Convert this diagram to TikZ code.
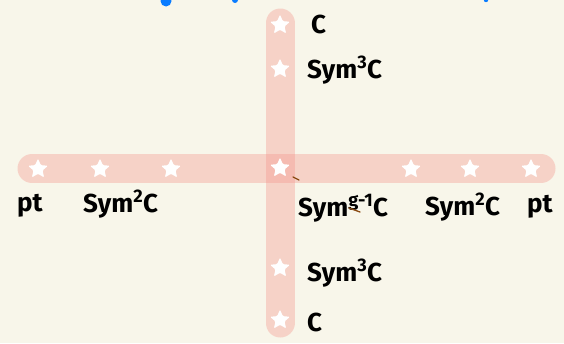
\documentclass[tikz,border=0pt]{standalone}
\usepackage{fontspec}
\setmainfont{Fira Sans}
\usepackage{xcolor}
\usepackage{tikz}
\usetikzlibrary{shapes.geometric, positioning, calc}
\definecolor{paperbg}{HTML}{F8F6EA}
\definecolor{bandpink}{HTML}{F5968D}
\definecolor{penink}{HTML}{000000}
\definecolor{penblue}{HTML}{0A7CFF}
\definecolor{penbrown}{HTML}{8A4A12}

\begin{document}
\begin{tikzpicture}[x=1pt, y=-1pt,
        band/.style={line width=29pt, line cap=round, draw=bandpink, draw opacity=0.37},
        starmark/.style={star, star points=5, star point ratio=2.2, minimum size=21pt, inner sep=0pt, fill=white, rounded corners=1.2pt},
        lbl/.style={anchor=base west, inner sep=0pt, text=penink, font=\fontsize{26}{30}\selectfont\bfseries},
        scribble/.style={penbrown, line width=1.3pt, line cap=round}
    ]
        \fill[paperbg] (0,0) rectangle (564,343);
        \useasboundingbox (0,0) rectangle (564,343);

        % band ends
        \coordinate (hl) at (32,168.5);
        \coordinate (hr) at (541,168.5);
        \coordinate (vt) at (280,23);
        \coordinate (vb) at (280,323);

        \draw[band] (hl) -- (hr);
        \draw[band] (vt) -- (vb);

        % stars along the horizontal band
        \node (h1) [starmark] at (38,169) {};
        \node (h2) [starmark] at (100,169) {};
        \node (h3) [starmark] at (171,169) {};
        \node (h4) [starmark] at (411,169) {};
        \node (h5) [starmark] at (470,169) {};
        \node (h6) [starmark] at (531,169) {};
        % stars along the vertical band
        \node (v1) [starmark] at (280,25) {};
        \node (v2) [starmark] at (280,69) {};
        \node (mid) [starmark] at (280,168) {};
        \node (v4) [starmark] at (280,268) {};
        \node (v5) [starmark] at (280,320) {};

        \node (ctop) [lbl] at (311,33) {C};
        \node (symtop) [lbl] at (307,78) {Sym\textsuperscript{3}C};
        \node (ptl) [lbl] at (17,211) {pt};
        \node (sym2l) [lbl] at (83,212) {Sym\textsuperscript{2}C};
        \node (symg) [lbl] at (298,216) {Sym\textsuperscript{g-1}C};
        \node (sym2r) [lbl] at (425,215) {Sym\textsuperscript{2}C};
        \node (ptr) [lbl] at (527,212) {pt};
        \node (symbot) [lbl] at (307,281) {Sym\textsuperscript{3}C};
        \node (cbot) [lbl] at (307,331) {C};

        % stray pen marks
        \draw[scribble] (293,177) -- (299,180);
        \draw[scribble] (349,208) -- (360,212);
        \fill[penblue] (166,1) circle (5.5);
        \fill[penblue] (235,0) circle (3);
        \fill[penblue] (486,0) circle (2.2);
    \end{tikzpicture}
\end{document}
